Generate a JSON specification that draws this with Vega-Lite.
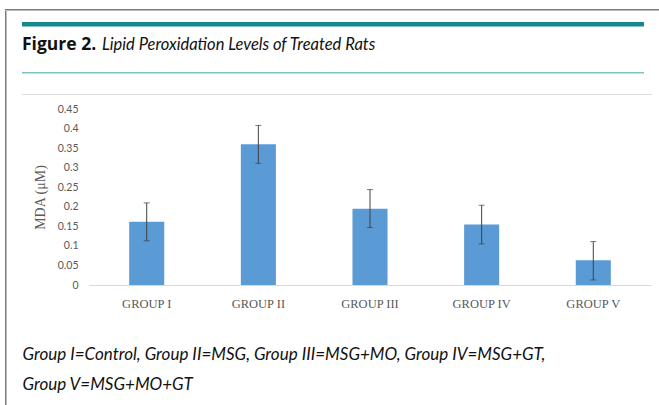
{
  "$schema": "https://vega.github.io/schema/vega-lite/v6.json",
  "padding": {"left": 5, "top": 9, "right": 0, "bottom": 0},
  "background": "white",
  "bounds": "flush",
  "spacing": 0,
  "config": {
    "view": {"stroke": null},
    "title": {"anchor": "start", "frame": "group", "baseline": "alphabetic"},
    "axisY": {
      "titleFont": "Liberation Serif", "titleFontSize": 14, "titleFontWeight": "normal",
      "titleColor": "#595959", "titlePadding": 10,
      "labelFont": "Lato", "labelFontSize": 10.5, "labelColor": "#595959",
      "labelOverlap": false, "labelFlush": false, "labelPadding": 11, "ticks": false, "domain": false, "grid": false
    }
  },
  "datasets": {
    "empty": [],
    "mda": [
      {"group": "GROUP I", "mean": 0.162, "lo": 0.113, "hi": 0.210},
      {"group": "GROUP II", "mean": 0.360, "lo": 0.311, "hi": 0.408},
      {"group": "GROUP III", "mean": 0.195, "lo": 0.147, "hi": 0.244},
      {"group": "GROUP IV", "mean": 0.155, "lo": 0.105, "hi": 0.204},
      {"group": "GROUP V", "mean": 0.063, "lo": 0.013, "hi": 0.111}
    ]
  },
  "vconcat": [
    {
      "data": {"name": "empty"},
      "mark": "point", "encoding": {},
      "width": 654, "height": 1.5,
      "view": {"fill": "#7a7a7a", "stroke": null}
    },
    {
      "bounds": "flush",
      "spacing": 0,
      "hconcat": [
        {
          "data": {"name": "empty"},
          "mark": "point", "encoding": {},
          "width": 1.5, "height": 394.5,
          "view": {"fill": "#7a7a7a", "stroke": null}
        },
        {
          "data": {"name": "empty"},
          "mark": "point", "encoding": {},
          "width": 15, "height": 394.5
        },
        {
          "bounds": "flush",
          "spacing": 0,
          "vconcat": [
            {"data": {"name": "empty"}, "mark": "point", "encoding": {}, "width": 622, "height": 11},
            {"data": {"name": "empty"}, "mark": "point", "encoding": {}, "width": 622, "height": 4.5,
             "view": {"fill": "#14888B", "stroke": null}},
            {"data": {"name": "empty"}, "mark": "point", "encoding": {}, "width": 622, "height": 44.5},
            {
              "bounds": "flush",
              "spacing": 0,
              "hconcat": [
                {
                  "data": {"name": "empty"}, "mark": "point", "encoding": {},
                  "width": 80, "height": 1.5,
                  "view": {"fill": "#7DC3C1", "stroke": null},
                  "title": {"text": "Figure 2.", "font": "Open Sans", "fontSize": 17.5, "fontWeight": "bold", "color": "#111111", "offset": 19}
                },
                {
                  "data": {"name": "empty"}, "mark": "point", "encoding": {},
                  "width": 542, "height": 1.5,
                  "view": {"fill": "#7DC3C1", "stroke": null},
                  "title": {"text": "Lipid Peroxidation Levels of Treated Rats", "font": "Lato", "fontSize": 16.5, "fontStyle": "italic", "fontWeight": "normal", "color": "#111111", "offset": 19}
                }
              ]
            },
            {"data": {"name": "empty"}, "mark": "point", "encoding": {}, "width": 622, "height": 21.5},
            {"data": {"name": "empty"}, "mark": "point", "encoding": {}, "width": 630, "height": 1,
             "view": {"fill": "#dddddd", "stroke": null}},
            {"data": {"name": "empty"}, "mark": "point", "encoding": {}, "width": 622, "height": 13.5},
            {
              "bounds": "flush",
              "spacing": 0,
              "hconcat": [
                {"data": {"name": "empty"}, "mark": "point", "encoding": {}, "width": 67, "height": 176},
                {
                  "data": {"name": "mda"},
                  "width": 562,
                  "height": 176,
                  "encoding": {
                    "x": {
                      "field": "group", "type": "nominal", "sort": null,
                      "scale": {"paddingInner": 0.686, "paddingOuter": 0.36},
                      "axis": {
                        "title": ["Group I=Control, Group II=MSG, Group III=MSG+MO, Group IV=MSG+GT,", "Group V=MSG+MO+GT"],
                        "titleFont": "Lato", "titleFontSize": 17, "titleFontStyle": "italic", "titleFontWeight": "normal",
                        "titleColor": "#111111", "titleAnchor": "start", "titleAlign": "left", "titleBaseline": "alphabetic",
                        "titleX": -67, "titleY": 74, "titleLineHeight": 30,
                        "labelAngle": 0, "labelFont": "Liberation Serif", "labelFontSize": 12.5, "labelColor": "#595959",
                        "labelPadding": 12, "ticks": false, "domainColor": "#d9d9d9", "domainWidth": 1
                      }
                    }
                  },
                  "layer": [
                    {
                      "mark": {"type": "bar", "color": "#5B9BD5"},
                      "encoding": {
                        "y": {
                          "field": "mean", "type": "quantitative",
                          "scale": {"domain": [0, 0.45], "nice": false, "zero": true},
                          "axis": {"title": "MDA (μM)", "values": [0, 0.05, 0.1, 0.15, 0.2, 0.25, 0.3, 0.35, 0.4, 0.45], "format": "~g"}
                        }
                      }
                    },
                    {
                      "mark": {"type": "rule", "color": "#404040", "strokeWidth": 1},
                      "encoding": {
                        "y": {"field": "lo", "type": "quantitative",
                              "axis": {"title": "MDA (μM)", "values": [0, 0.05, 0.1, 0.15, 0.2, 0.25, 0.3, 0.35, 0.4, 0.45], "format": "~g"}},
                        "y2": {"field": "hi"}
                      }
                    },
                    {
                      "mark": {"type": "tick", "color": "#404040", "thickness": 1, "size": 6},
                      "encoding": {"y": {"field": "lo", "type": "quantitative",
                              "axis": {"title": "MDA (μM)", "values": [0, 0.05, 0.1, 0.15, 0.2, 0.25, 0.3, 0.35, 0.4, 0.45], "format": "~g"}}}
                    },
                    {
                      "mark": {"type": "tick", "color": "#404040", "thickness": 1, "size": 6},
                      "encoding": {"y": {"field": "hi", "type": "quantitative",
                              "axis": {"title": "MDA (μM)", "values": [0, 0.05, 0.1, 0.15, 0.2, 0.25, 0.3, 0.35, 0.4, 0.45], "format": "~g"}}}
                    }
                  ]
                }
              ]
            }
          ]
        }
      ]
    }
  ]
}
